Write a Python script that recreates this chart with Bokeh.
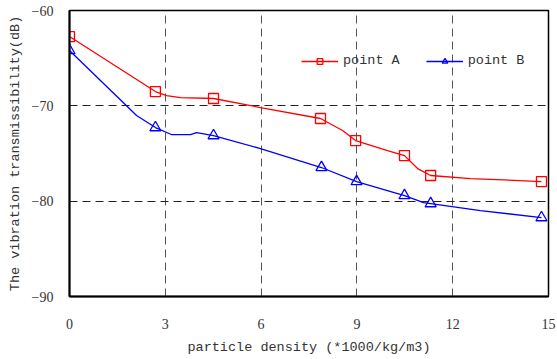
from bokeh.plotting import figure
from bokeh.models import FixedTicker, Legend, LegendItem, Range1d
from bokeh.embed import file_html
from bokeh.resources import INLINE

# Dense line traces
a_line_x = [0, 2.69, 3.04, 3.48, 4.51, 5.98, 7.86, 8.55, 8.96, 9.96, 10.49, 10.90, 11.31, 12.56, 14.78]
a_line_y = [-62.73, -68.50, -68.92, -69.13, -69.23, -70.18, -71.33, -72.59, -73.64, -74.69, -75.22, -76.58, -77.31, -77.63, -77.94]
b_line_x = [0, 2.10, 2.69, 3.19, 3.79, 3.98, 4.51, 5.98, 7.89, 8.99, 10.49, 11.09, 11.31, 12.87, 14.78]
b_line_y = [-64.20, -71.02, -72.28, -73.01, -73.01, -72.80, -73.12, -74.48, -76.47, -77.94, -79.41, -80.15, -80.25, -80.99, -81.72]

# Marker points
a_mark_x = [0, 2.69, 4.51, 7.86, 8.96, 10.49, 11.31, 14.78]
a_mark_y = [-62.73, -68.50, -69.23, -71.33, -73.64, -75.22, -77.31, -77.94]
b_mark_x = [0, 2.69, 4.51, 7.89, 8.99, 10.49, 11.31, 14.78]
b_mark_y = [-64.20, -72.28, -73.12, -76.47, -77.94, -79.41, -80.25, -81.72]

x_ticks = [0, 3, 6, 9, 12, 15]
y_ticks = [-90, -80, -70, -60]
y_tick_labels = ["\u221290", "\u221280", "\u221270", "\u221260"]

SERIF = "Liberation Serif"
MONO = "Liberation Mono"
TXT = "#333333"

p = figure(width=557, height=359, output_backend="svg", toolbar_location=None,
           x_range=Range1d(0, 15), y_range=Range1d(-90, -60),
           min_border_left=69, min_border_right=9, min_border_top=10, min_border_bottom=63)
p.background_fill_color = "white"
p.border_fill_color = "white"
p.outline_line_color = "black"
p.outline_line_width = 1.5

p.xaxis.ticker = FixedTicker(ticks=x_ticks)
p.yaxis.ticker = FixedTicker(ticks=y_ticks)
p.yaxis.major_label_overrides = {t: l for t, l in zip(y_ticks, y_tick_labels)}

for ax in (p.xaxis, p.yaxis):
    ax.major_tick_line_color = None
    ax.minor_tick_line_color = None
    ax.axis_line_color = "black"
    ax.axis_line_width = 2
    ax.major_label_text_font = SERIF
    ax.major_label_text_font_size = "14px"
    ax.major_label_text_color = TXT
    ax.axis_label_text_font = MONO
    ax.axis_label_text_font_size = "13.5px"
    ax.axis_label_text_font_style = "normal"
    ax.axis_label_text_color = TXT

p.xaxis.axis_label = "particle density (*1000/kg/m3)"
p.yaxis.axis_label = "The vibration transmissibility(dB)"
p.xaxis.major_label_standoff = 16
p.yaxis.major_label_standoff = 10
p.xaxis.axis_label_standoff = 8
p.yaxis.axis_label_standoff = 6

p.xgrid.grid_line_color = "#555555"
p.xgrid.grid_line_dash = "8 5"
p.xgrid.grid_line_width = 1
p.ygrid.grid_line_color = "#222222"
p.ygrid.grid_line_dash = "8 5"
p.ygrid.grid_line_width = 1

la = p.line(a_line_x, a_line_y, line_color="red", line_width=1.3)
ma = p.scatter(a_mark_x, a_mark_y, marker="square", size=10, fill_color=None,
               line_color="red", line_width=1.3)
lb = p.line(b_line_x, b_line_y, line_color="blue", line_width=1.3)
mb = p.scatter(b_mark_x, b_mark_y, marker="triangle", size=11, fill_color=None,
               line_color="blue", line_width=1.3)

legend = Legend(items=[LegendItem(label="point A", renderers=[la, ma]),
                       LegendItem(label="point B", renderers=[lb, mb])],
                orientation="horizontal", location=(232, 228),
                glyph_width=37, glyph_height=14, label_standoff=5, spacing=26,
                padding=0, margin=0, border_line_color=None,
                background_fill_alpha=0,
                label_text_font=MONO, label_text_font_size="13.5px",
                label_text_color=TXT)
p.add_layout(legend)

open("out.html", "w").write(file_html(p, INLINE))
